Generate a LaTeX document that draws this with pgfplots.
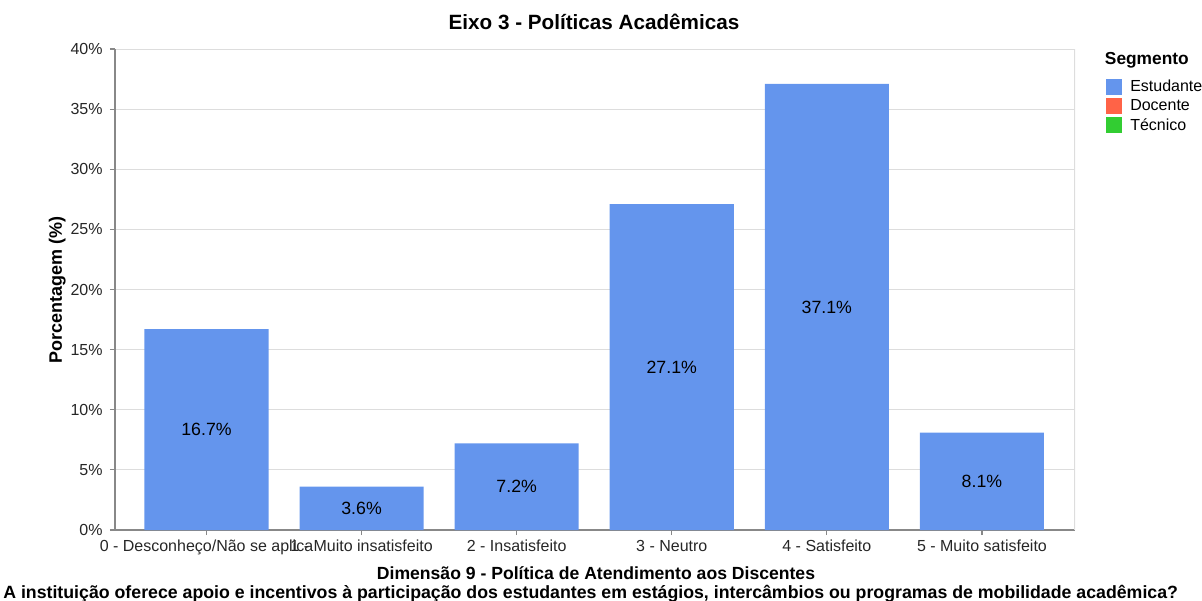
\documentclass[border=0pt]{standalone}
\usepackage{pgfplots}
\pgfplotsset{compat=1.18}
\usepackage{fontspec}
\setmainfont{Liberation Sans}
\definecolor{estud}{HTML}{6495ED}
\definecolor{docen}{HTML}{FF6347}
\definecolor{tecn}{HTML}{32CD32}
\definecolor{axgray}{HTML}{888888}
\definecolor{gridgray}{HTML}{DDDDDD}
\begin{document}
\begin{tikzpicture}
\useasboundingbox (0pt,0pt) rectangle (901.5pt,450pt);
\begin{axis}[
  at={(86.25pt,52.5pt)}, anchor=south west,
  scale only axis,
  width=720pt, height=360.75pt,
  xmin=-0.59, xmax=5.6, ymin=0, ymax=40,
  axis x line*=bottom, axis y line*=left,
  axis line style={axgray, line width=0.9pt},
  every tick/.style={axgray, line width=0.9pt},
  tick align=outside, major tick length=3.75pt,
  xtick={0,1,2,3,4,5},
  xticklabels={0 - Desconheço/Não se aplica, 1 - Muito insatisfeito, 2 - Insatisfeito, 3 - Neutro, 4 - Satisfeito, 5 - Muito satisfeito},
  ytick={0,5,...,40},
  yticklabel={\pgfmathprintnumber{\tick}\%},
  /pgf/number format/assume math mode=true,
  ymajorgrids, grid style={gridgray, line width=0.6pt},
  tick label style={font=\fontsize{12}{14}\selectfont, text=black!85},
  xticklabel style={yshift=-0.5pt},
  yticklabel style={xshift=-2pt},
  legend style={at={(rel axis cs:1.0323,0.942)}, anchor=north west, draw=none, fill=none,
    font=\fontsize{12}{14}\selectfont, row sep=0.5pt, inner sep=0pt,
    legend cell align=left},
  legend image code/.code={\fill[#1, draw=none] (0pt,-6pt) rectangle (12pt,6pt); \path[draw=none, fill=none] (0pt,0pt) -- (16pt,0pt);},
]
\addplot[ybar, bar width=0.8, fill=estud, draw=none, forget plot] coordinates {
  (0,16.7) (1,3.6) (2,7.2) (3,27.1) (4,37.1) (5,8.1)};
\addplot[draw=none, mark=none, forget plot, point meta=explicit symbolic,
  nodes near coords={\pgfplotspointmeta\%},
  every node near coord/.style={anchor=center, font=\fontsize{13.3}{15}\selectfont, text=black}]
  coordinates {(0,8.35)[16.7] (1,1.8)[3.6] (2,3.6)[7.2] (3,13.55)[27.1] (4,18.55)[37.1] (5,4.05)[8.1]};
\draw[gridgray, line width=0.9pt] (rel axis cs:1,0) -- (rel axis cs:1,1);
\addlegendimage{fill=estud}\addlegendentry{Estudante}
\addlegendimage{fill=docen}\addlegendentry{Docente}
\addlegendimage{fill=tecn}\addlegendentry{Técnico}
\end{axis}
\node[font=\bfseries\fontsize{15.5}{18}\selectfont] at (445.5pt,433.5pt) {Eixo 3 - Políticas Acadêmicas};
\node[font=\bfseries\fontsize{13}{15}\selectfont, anchor=west, inner sep=0pt] at (828.5pt,405pt) {Segmento};
\node[font=\bfseries\fontsize{13.5}{16}\selectfont, rotate=90] at (43pt,232.5pt) {Porcentagem (\%)};
\node[font=\bfseries\fontsize{13.2}{15}\selectfont] at (447pt,20.25pt) {Dimensão 9 - Política de Atendimento aos Discentes};
\node[font=\bfseries\fontsize{13.3}{15}\selectfont] at (443pt,5pt) {A instituição oferece apoio e incentivos à participação dos estudantes em estágios, intercâmbios ou programas de mobilidade acadêmica?};
\end{tikzpicture}
\end{document}
